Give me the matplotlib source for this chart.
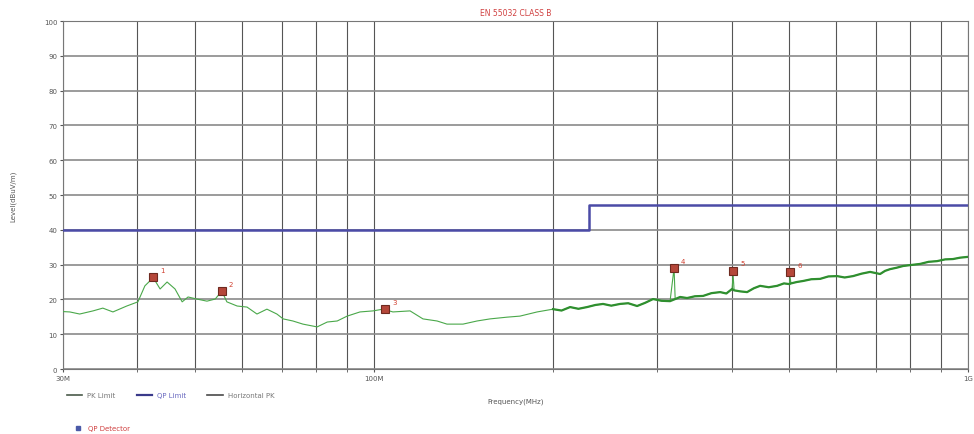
import matplotlib
matplotlib.use("Agg")
import matplotlib.pyplot as plt
from matplotlib.lines import Line2D
from matplotlib.ticker import FixedLocator, NullFormatter

# measured trace (MHz, dBuV/m)
freq = [30.0, 30.8, 32.0, 33.7, 35.0, 36.4, 38.4, 40.1, 41.2, 42.0, 42.5, 43.7, 44.9,
        46.3, 47.6, 48.7, 50.4, 52.4, 54.1, 55.5, 56.6, 58.9, 61.2, 63.6, 66.1, 68.7,
        70.4, 73.1, 76.0, 80.3, 83.5, 86.8, 90.2, 94.8, 99.7, 103.7, 107.7, 115.1,
        121.0, 127.8, 132.8, 141.3, 149.2, 156.9, 167.6, 176.2, 188.3, 200.3, 207.0,
        214.0, 221.0, 228.5, 236.0, 243.1, 251.0, 259.7, 268.0, 277.4, 286.0, 295.1,
        305.0, 315.2, 320.1, 321.5, 327.7, 336.7, 347.0, 358.2, 370.0, 382.7, 392.0,
        400.8, 402.4, 404.0, 414.0, 424.8, 436.0, 446.8, 462.0, 477.2, 490.0, 500.5,
        501.9, 503.5, 515.0, 527.9, 545.0, 563.7, 582.0, 602.0, 620.0, 640.5, 662.0,
        684.1, 698.0, 711.2, 725.0, 739.3, 758.0, 777.5, 803.0, 830.4, 858.0, 886.8,
        915.0, 943.4, 970.0, 996.4]
level = [16.5, 16.4, 15.8, 16.7, 17.5, 16.4, 18.1, 19.3, 23.9, 25.3, 26.4, 23.0, 25.0,
         23.0, 19.3, 20.7, 20.1, 19.5, 20.1, 22.4, 19.3, 18.1, 17.8, 15.8, 17.2, 15.8,
         14.4, 13.8, 12.9, 12.1, 13.5, 13.8, 15.2, 16.4, 16.7, 17.2, 16.4, 16.7,
         14.4, 13.8, 12.9, 12.9, 13.8, 14.4, 14.9, 15.2, 16.4, 17.2, 16.8,
         17.8, 17.3, 17.8, 18.4, 18.7, 18.2, 18.7, 18.9, 18.1, 19.0, 20.1,
         19.6, 19.5, 29.0, 20.1, 20.7, 20.4, 20.9, 21.0, 21.8, 22.1, 21.7,
         23.0, 27.0, 22.6, 22.3, 22.1, 23.2, 23.9, 23.5, 23.9, 24.6, 24.4,
         26.3, 24.6, 25.0, 25.3, 25.8, 25.9, 26.6, 26.7, 26.3, 26.7, 27.4,
         27.9, 27.6, 27.3, 28.2, 28.7, 29.1, 29.6, 29.9, 30.2, 30.8, 31.0,
         31.5, 31.6, 32.0, 32.2]

# QP limit (EN 55032 class B, 3 m)
lim_freq = [30, 230, 230, 1000]
lim_level = [40, 40, 47, 47]

# QP detector points
qp_freq = [42.5, 55.5, 104.5, 320.1, 402.4, 501.9]
qp_level = [26.4, 22.4, 17.2, 29.0, 28.2, 27.8]
qp_names = ["1", "2", "3", "4", "5", "6"]

x_major = [30, 100, 1000]
x_labels = ["30M", "100M", "1G"]
x_minor = [40, 50, 60, 70, 80, 90, 200, 300, 400, 500, 600, 700, 800, 900]
y_ticks = [0, 10, 20, 30, 40, 50, 60, 70, 80, 90, 100]

fig = plt.figure(figsize=(9.74, 4.35), dpi=100)
ax = fig.add_axes([0.0647, 0.1494, 0.9292, 0.80])
ax.set_xscale("log")
ax.set_xlim(30, 1000)
ax.set_ylim(0, 100)

ax.xaxis.set_major_locator(FixedLocator(x_major))
ax.xaxis.set_minor_locator(FixedLocator(x_minor))
ax.xaxis.set_minor_formatter(NullFormatter())
ax.set_xticklabels(x_labels)
ax.set_yticks(y_ticks)
ax.tick_params(axis="both", which="both", length=2, labelsize=5, colors="#555555", pad=2)
ax.grid(True, axis="x", which="both", color="#555555", lw=0.8)
ax.grid(True, axis="y", which="major", color="#8a8a8a", lw=1.2)
for s in ax.spines.values():
    s.set_color("#777777"); s.set_linewidth(0.8)

ax.plot(lim_freq, lim_level, color="#4b4ba6", lw=1.8, zorder=3)
ax.plot(freq, level, color="#4aa84a", lw=0.8, zorder=4)
# denser noisy part drawn heavier, spikes left thin
hi = [(f, l) for f, l in zip(freq, level) if f >= 200 and f not in qp_freq]
ax.plot([p[0] for p in hi], [p[1] for p in hi], color="#2f8f2f", lw=1.6, zorder=4)

ax.plot(qp_freq, qp_level, ls="none", marker="s", ms=6, mfc="#b5473a", mec="#6e2a20",
        mew=0.8, zorder=5)
for f, l, n in zip(qp_freq, qp_level, qp_names):
    ax.annotate(n, (f, l), xytext=(5, 4), textcoords="offset points",
                fontsize=5, color="#d04030")

ax.set_title("EN 55032 CLASS B", fontsize=5.5, color="#d04040", pad=4)
ax.set_ylabel("Level(dBuV/m)", fontsize=5, color="#555555", labelpad=20)
ax.set_xlabel("Frequency(MHz)", fontsize=5, color="#555555", labelpad=12)

h1 = [Line2D([0], [0], color="#4a5a4a", lw=1.2),
      Line2D([0], [0], color="#3a3a8a", lw=1.6),
      Line2D([0], [0], color="#4a4a4a", lw=1.2)]
fig.legend(h1, ["PK Limit", "QP Limit", "Horizontal PK"], ncol=3, frameon=False,
           fontsize=5, loc="upper left", bbox_to_anchor=(0.062, 0.11),
           handlelength=2.2, columnspacing=3.0,
           labelcolor=["#777777", "#6a6ac0", "#777777"])
h2 = [Line2D([0], [0], ls="none", marker="s", ms=3, mfc="#4a5aa8", mec="#4a5aa8")]
fig.legend(h2, ["QP Detector"], frameon=False, fontsize=5, loc="upper left",
           bbox_to_anchor=(0.068, 0.035), labelcolor=["#d04040"], handlelength=1.5)

fig.savefig("out.png", dpi=100)
